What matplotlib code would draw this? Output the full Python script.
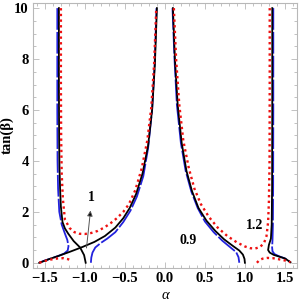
import matplotlib
matplotlib.use("Agg")
import matplotlib.pyplot as plt
from matplotlib.ticker import MultipleLocator

# ---- traced contour data (alpha, tan beta) ----
# level 1 (black)
black_left_outer_a = [-1.325, -1.325, -1.322, -1.318, -1.31, -1.30, -1.28, -1.25, -1.21, -1.14, -1.06, -1.01, -0.99]
black_left_outer_t = [10.0, 7.0, 5.0, 3.8, 2.9, 2.2, 1.6, 1.35, 1.15, 0.85, 0.60, 0.30, 0.0]
black_left_diag_a = [-1.57, -1.45, -1.32, -1.18, -1.03, -0.88, -0.75, -0.62, -0.52, -0.44, -0.36, -0.28, -0.21, -0.16, -0.125, -0.10]
black_left_diag_t = [0.0, 0.14, 0.28, 0.44, 0.62, 0.82, 1.05, 1.38, 1.75, 2.15, 2.7, 3.5, 4.6, 6.0, 7.8, 10.0]
black_right_diag_a = [0.10, 0.125, 0.16, 0.21, 0.27, 0.34, 0.42, 0.52, 0.63, 0.74, 0.85, 0.93, 0.975, 0.995, 1.0]
black_right_diag_t = [10.0, 8.0, 6.2, 4.7, 3.6, 2.8, 2.15, 1.65, 1.25, 0.92, 0.66, 0.48, 0.32, 0.15, 0.0]
black_right_outer_a = [1.342, 1.342, 1.34, 1.335, 1.325, 1.30, 1.29, 1.31, 1.36, 1.43, 1.50, 1.57]
black_right_outer_t = [10.0, 6.0, 3.0, 1.5, 0.95, 0.70, 0.50, 0.40, 0.31, 0.24, 0.17, 0.02]

# level 0.9 (blue)
blue_left_outer_a = [-1.345, -1.345, -1.342, -1.335, -1.32, -1.29, -1.25, -1.22, -1.205, -1.215, -1.26, -1.33, -1.42, -1.50, -1.57]
blue_left_outer_t = [10.0, 6.0, 4.0, 2.9, 2.0, 1.5, 1.15, 0.9, 0.65, 0.48, 0.36, 0.27, 0.17, 0.09, 0.0]
blue_left_diag_a = [-0.925, -0.92, -0.905, -0.87, -0.80, -0.72, -0.62, -0.52, -0.43, -0.35, -0.27, -0.21, -0.16, -0.128, -0.105]
blue_left_diag_t = [0.0, 0.2, 0.4, 0.6, 0.78, 0.95, 1.2, 1.6, 2.05, 2.6, 3.4, 4.5, 6.0, 7.8, 10.0]
blue_right_diag_a = [0.095, 0.12, 0.15, 0.20, 0.26, 0.33, 0.41, 0.50, 0.61, 0.72, 0.82, 0.89, 0.92, 0.93]
blue_right_diag_t = [10.0, 8.0, 6.2, 4.7, 3.6, 2.8, 2.15, 1.62, 1.2, 0.86, 0.6, 0.42, 0.22, 0.0]
blue_right_outer_a = [1.355, 1.355, 1.353, 1.35, 1.345, 1.34, 1.345, 1.37, 1.43, 1.50, 1.57]
blue_right_outer_t = [10.0, 6.0, 3.0, 1.5, 0.9, 0.6, 0.45, 0.34, 0.25, 0.17, 0.02]

# level 1.2 (red)
red_left_u_a = [-1.30, -1.30, -1.297, -1.29, -1.275, -1.25, -1.19, -1.13, -1.07, -1.00, -0.92, -0.84, -0.76, -0.68, -0.60, -0.52, -0.45, -0.37, -0.29, -0.22, -0.17, -0.135, -0.108]
red_left_u_t = [10.0, 7.0, 5.0, 3.5, 2.5, 1.7, 1.36, 1.2, 1.14, 1.13, 1.17, 1.25, 1.38, 1.55, 1.75, 2.0, 2.3, 2.85, 3.7, 4.8, 6.1, 7.8, 10.0]
red_left_low_a = [-1.57, -1.50, -1.42, -1.34, -1.27, -1.21, -1.16]
red_left_low_t = [0.0, 0.07, 0.13, 0.17, 0.18, 0.14, 0.08]
red_right_u_a = [0.112, 0.14, 0.18, 0.23, 0.30, 0.37, 0.45, 0.55, 0.66, 0.78, 0.90, 1.00, 1.07, 1.13, 1.19, 1.24, 1.27, 1.29, 1.30, 1.308, 1.31, 1.31]
red_right_u_t = [10.0, 8.0, 6.2, 4.8, 3.7, 2.9, 2.3, 1.8, 1.38, 1.05, 0.8, 0.64, 0.57, 0.56, 0.62, 0.78, 1.05, 1.6, 2.4, 4.0, 7.0, 10.0]
red_right_low_a = [1.15, 1.18, 1.22, 1.28, 1.35, 1.42, 1.50, 1.57]
red_right_low_t = [0.0, 0.1, 0.16, 0.19, 0.18, 0.14, 0.09, 0.02]

x_ticks = [-1.5, -1.0, -0.5, 0.0, 0.5, 1.0, 1.5]
y_ticks = [0, 2, 4, 6, 8, 10]

label_font = "Liberation Serif"

fig = plt.figure(figsize=(2.99, 3.03), dpi=100)
ax = fig.add_axes([0.110, 0.116, 0.883, 0.874])

blue_curves = [(blue_left_outer_a, blue_left_outer_t), (blue_left_diag_a, blue_left_diag_t),
               (blue_right_diag_a, blue_right_diag_t), (blue_right_outer_a, blue_right_outer_t)]
black_curves = [(black_left_outer_a, black_left_outer_t), (black_left_diag_a, black_left_diag_t),
                (black_right_diag_a, black_right_diag_t), (black_right_outer_a, black_right_outer_t)]
red_curves = [(red_left_u_a, red_left_u_t), (red_left_low_a, red_left_low_t),
              (red_right_u_a, red_right_u_t), (red_right_low_a, red_right_low_t)]

for a, t in blue_curves:
    ax.plot(a, t, color="#2222dd", lw=1.3, dashes=(12, 1.2), solid_capstyle="butt", zorder=2)
for a, t in black_curves:
    ax.plot(a, t, color="black", lw=1.3, zorder=3)
for a, t in red_curves:
    ax.plot(a, t, color="#ee1111", lw=1.7, dashes=(1.0, 1.4), zorder=4)

# annotations
ax.annotate("", xy=(-0.93, 2.05), xytext=(-0.98, 0.58),
            arrowprops=dict(arrowstyle="-|>", color="#777777", lw=0.7,
                            mutation_scale=8, shrinkA=0, shrinkB=0,
                            fc="black", ec="#555555"), zorder=5)
ax.text(-0.92, 2.3, "1", fontfamily=label_font, fontweight="bold", fontsize=10,
        ha="center", va="bottom")
ax.text(0.29, 0.88, "0.9", fontfamily=label_font, fontweight="bold", fontsize=10,
        ha="center", va="center")
ax.text(1.125, 1.45, "1.2", fontfamily=label_font, fontweight="bold", fontsize=10,
        ha="center", va="center")

ax.set_xlim(-1.65, 1.65)
ax.set_ylim(-0.2, 10.2)
ax.set_xticks(x_ticks)
ax.set_xticklabels(["\u22121.5", "\u22121.0", "\u22120.5", "0.0", "0.5", "1.0", "1.5"])
ax.set_yticks(y_ticks)
ax.set_yticklabels([str(v) for v in y_ticks])
ax.xaxis.set_minor_locator(MultipleLocator(0.1))
ax.yaxis.set_minor_locator(MultipleLocator(0.5))

frame_col = "#b8b8b8"
for s in ax.spines.values():
    s.set_color(frame_col)
    s.set_linewidth(0.8)
ax.tick_params(which="both", direction="in", top=True, right=True, color=frame_col, width=0.6)
ax.tick_params(which="major", length=4, pad=3)
ax.tick_params(which="minor", length=2)
for lab in ax.get_xticklabels() + ax.get_yticklabels():
    lab.set_fontfamily(label_font)
    lab.set_fontweight("bold")
    lab.set_fontsize(10.5)

ax.set_xlabel("\u03b1", fontfamily=label_font, fontstyle="italic", fontsize=10.5)
ax.xaxis.set_label_coords(0.5, -0.08)
ax.set_ylabel("tan(\u03b2)", fontfamily=label_font, fontweight="bold", fontsize=10.5)
ax.yaxis.set_label_coords(-0.072, 0.5)

fig.savefig("out.png", dpi=100)
